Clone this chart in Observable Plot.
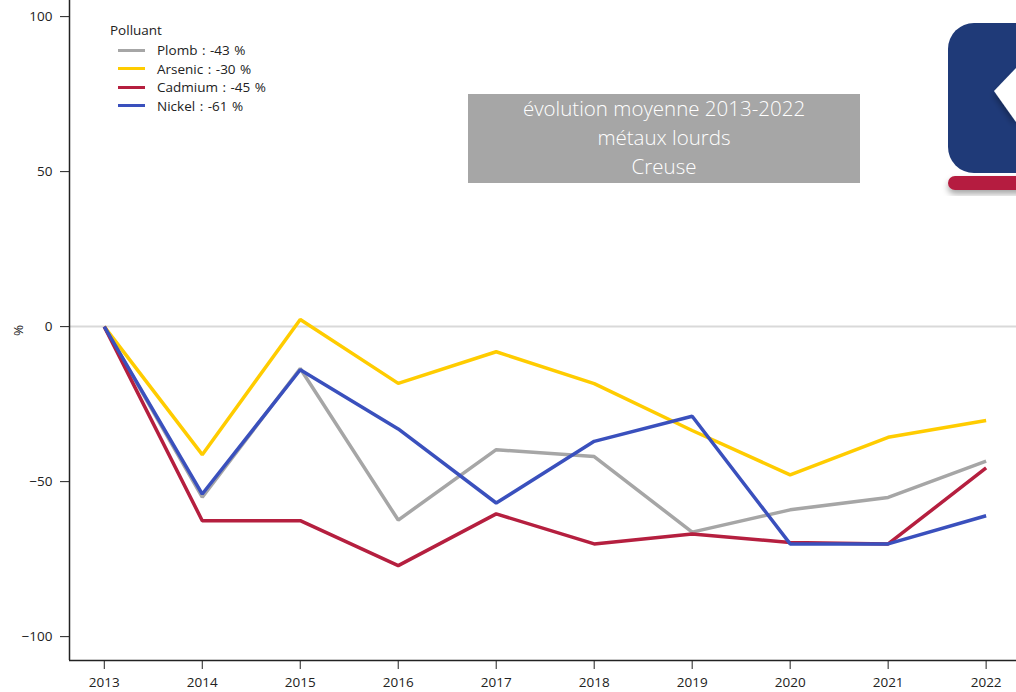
<!DOCTYPE html>
<html>
<head>
<meta charset="utf-8">
<script src="https://cdn.jsdelivr.net/npm/d3@7"></script>
<script src="https://cdn.jsdelivr.net/npm/@observablehq/plot@0.6"></script>
<style>
  html, body { margin: 0; padding: 0; background: #fff; }
  #wrap { position: relative; width: 1016px; height: 692px; overflow: hidden; font-family: "Open Sans", sans-serif; }
  #chart svg text { font-family: "Open Sans", sans-serif; font-size: 13.5px; }
  #legend { position: absolute; left: 110px; top: 21px; font-size: 13.5px; color: #222; }
  #legend .ttl { height: 20px; }
  #legend .row { display: flex; align-items: center; height: 18.5px; margin-left: 8px; }
  #legend .sw { width: 27px; height: 3px; margin-right: 12px; }
  #legend .row span { word-spacing: 1px; }
  #title { position: absolute; left: 468px; top: 94px; width: 392px; height: 89px; background: #a6a6a6; color: #fff;
           font-size: 20.5px; font-weight: 300; text-align: center; line-height: 29px; padding-top: 0px; box-sizing: border-box; }
  #logo { position: absolute; left: 930px; top: 0; }
</style>
</head>
<body>
<div id="wrap">
  <div id="chart"></div>
  <div id="legend"></div>
  <div id="title"></div>
  <svg id="logo" width="86" height="210">
    <defs>
      <filter id="sh" x="-20%" y="-20%" width="140%" height="160%">
        <feDropShadow dx="0" dy="4" stdDeviation="3" flood-color="#000" flood-opacity="0.35"/>
      </filter>
    </defs>
    <rect x="18" y="176" width="100" height="14" rx="7" fill="#b51f3f" filter="url(#sh)"/>
    <rect x="18" y="23" width="110" height="150" rx="26" fill="#1f3a78"/>
    <polygon points="64,91 86,68 86,122" fill="#ffffff" filter="url(#sh)"/>
  </svg>
</div>
<script>
const years = [2013, 2014, 2015, 2016, 2017, 2018, 2019, 2020, 2021, 2022];
const plomb   = [0, -55, -13.5, -62.4, -39.7, -41.9, -66.3, -59.1, -55.1, -43.4];
const arsenic = [0, -41.3, 2.3, -18.3, -8.1, -18.4, -33.5, -47.8, -35.7, -30.3];
const cadmium = [0, -62.6, -62.6, -77.1, -60.4, -70.1, -66.9, -69.6, -70.1, -45.6];
const nickel  = [0, -54, -13.9, -33, -56.9, -37, -28.9, -70.1, -70.1, -61];
const seriesNames = ["Plomb", "Arsenic", "Cadmium", "Nickel"];
const seriesLabels = ["Plomb : -43 %", "Arsenic : -30 %", "Cadmium : -45 %", "Nickel : -61 %"];
const seriesColors = ["#a6a6a6", "#ffcc00", "#b51f3f", "#3a50bd"];
const yTicks = [-100, -50, 0, 50, 100];
const titleLines = ["évolution moyenne 2013-2022", "métaux lourds", "Creuse"];
const legendTitle = "Polluant";

const allSeries = [plomb, arsenic, cadmium, nickel];
const data = [];
allSeries.forEach((vals, i) => vals.forEach((v, j) => data.push({year: years[j], value: v, polluant: seriesNames[i]})));

const xDomain = [2012.645, 2022.31];
const yDomain = [-107.7, 105.2];

const chart = Plot.plot({
  width: 1016,
  height: 692,
  marginLeft: 69,
  marginRight: 0,
  marginTop: 0,
  marginBottom: 32,
  style: {fontFamily: "'Open Sans', sans-serif", fontSize: "13.5px", color: "#222"},
  x: {domain: xDomain},
  y: {domain: yDomain},
  color: {domain: seriesNames, range: seriesColors},
  marks: [
    Plot.ruleY([0], {stroke: "#d9d9d9", strokeWidth: 2}),
    Plot.line(data, {x: "year", y: "value", z: "polluant", stroke: "polluant", strokeWidth: 3.5, strokeLinejoin: "miter", strokeLinecap: "butt"}),
    Plot.ruleX([xDomain[0]], {stroke: "#222", strokeWidth: 1.5}),
    Plot.ruleY([yDomain[0]], {stroke: "#222", strokeWidth: 1.5}),
    Plot.axisX({ticks: years, tickFormat: d => String(d), tickSize: 9, tickPadding: 8, fontSize: 13.5, label: null, stroke: "#222"}),
    Plot.axisY({ticks: yTicks, tickSize: 9, tickPadding: 8, fontSize: 13.5, label: "%", labelAnchor: "center", labelOffset: 56, labelArrow: "none", stroke: "#222"})
  ]
});
document.getElementById("chart").appendChild(chart);

const legend = document.getElementById("legend");
const t = document.createElement("div"); t.className = "ttl"; t.textContent = legendTitle; legend.appendChild(t);
seriesLabels.forEach((lab, i) => {
  const row = document.createElement("div"); row.className = "row";
  const sw = document.createElement("div"); sw.className = "sw"; sw.style.background = seriesColors[i];
  const tx = document.createElement("span"); tx.textContent = lab;
  row.appendChild(sw); row.appendChild(tx); legend.appendChild(row);
});
const title = document.getElementById("title");
titleLines.forEach(l => { const d = document.createElement("div"); d.textContent = l; title.appendChild(d); });
</script>
</body>
</html>
